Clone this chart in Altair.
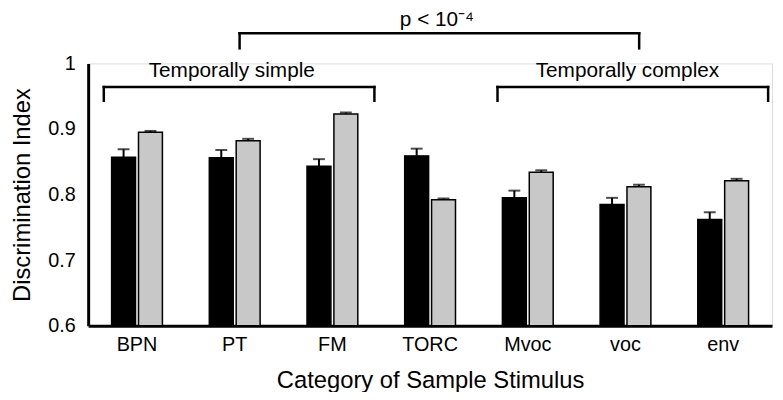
import altair as alt
import pandas as pd

# ---- data ----
categories = ["BPN", "PT", "FM", "TORC", "Mvoc", "voc", "env"]
series_names = ["dark", "light"]
dark_values = [0.857, 0.856, 0.843, 0.859, 0.795, 0.785, 0.762]
dark_errors = [0.012, 0.012, 0.011, 0.011, 0.011, 0.010, 0.011]
light_values = [0.895, 0.882, 0.923, 0.792, 0.834, 0.812, 0.821]
light_errors = [0.002, 0.003, 0.002, 0.002, 0.003, 0.003, 0.003]

# brackets (x in category units: category i is centred on i + 0.5)
bracket_labels = ["Temporally simple", "Temporally complex", "p < 10⁻⁴"]
bracket_start = [0.16, 4.19, 1.55]
bracket_end = [2.93, 6.96, 5.64]
bracket_level = [0.964, 0.964, 1.046]
bracket_tip = [0.943, 0.943, 1.023]
label_x = [1.47, 5.52, 3.57]
label_y = [0.980, 0.980, 1.057]

FONT = "Liberation Sans"

rows = []
for i, c in enumerate(categories):
    rows.append({"cat": c, "series": series_names[0], "value": dark_values[i],
                 "top": dark_values[i] + dark_errors[i]})
    rows.append({"cat": c, "series": series_names[1], "value": light_values[i],
                 "top": light_values[i] + light_errors[i]})
bars_df = pd.DataFrame(rows)

br_df = pd.DataFrame({"label": bracket_labels, "x1": bracket_start, "x2": bracket_end,
                      "lvl": bracket_level, "tip": bracket_tip,
                      "lx": label_x, "ly": label_y})
tips = []
for i in range(len(bracket_labels)):
    tips.append({"x": bracket_start[i], "y1": bracket_tip[i], "y2": bracket_level[i]})
    tips.append({"x": bracket_end[i], "y1": bracket_tip[i], "y2": bracket_level[i]})
tips_df = pd.DataFrame(tips)

xscale = alt.Scale(domain=categories, paddingInner=0.48, paddingOuter=0.24)
yscale = alt.Scale(domain=[0.6, 1.0], nice=False, zero=False)
offscale = alt.Scale(domain=series_names, paddingInner=0.11, paddingOuter=0)

x_enc = alt.X("cat:N", scale=xscale, sort=categories,
              axis=alt.Axis(title="Category of Sample Stimulus", labelAngle=0, ticks=False,
                            labelPadding=9, titlePadding=14, domainWidth=3, domainColor="black",
                            labelFont=FONT, labelFontSize=20, labelColor="black",
                            titleFont=FONT, titleFontSize=24, titleFontWeight="normal",
                            titleColor="black"))
y_axis = alt.Axis(title="Discrimination Index", values=[0.6, 0.7, 0.8, 0.9, 1.0], format="~g",
                  ticks=False, grid=False, labelPadding=13, titlePadding=13, domainWidth=3,
                  domainColor="black", labelFont=FONT, labelFontSize=20, labelColor="black",
                  titleFont=FONT, titleFontSize=24, titleFontWeight="normal", titleColor="black")

base = alt.Chart(bars_df)

bars = base.mark_bar(strokeWidth=1.5).encode(
    x=x_enc,
    xOffset=alt.XOffset("series:N", scale=offscale),
    y=alt.Y("value:Q", scale=yscale, axis=y_axis),
    y2=alt.Y2(datum=0.6),
    fill=alt.Fill("series:N", scale=alt.Scale(domain=series_names, range=["#000000", "#c8c8c8"]),
                  legend=None),
    stroke=alt.Stroke("series:N", scale=alt.Scale(domain=series_names, range=["#000000", "#000000"]),
                      legend=None),
)

err = base.mark_rule(color="black", strokeWidth=2).encode(
    x=alt.X("cat:N", scale=xscale, sort=categories),
    xOffset=alt.XOffset("series:N", scale=offscale),
    y=alt.Y("value:Q", scale=yscale),
    y2="top:Q",
)
caps = base.mark_tick(color="black", thickness=2, size=12, orient="horizontal").encode(
    x=alt.X("cat:N", scale=xscale, sort=categories),
    xOffset=alt.XOffset("series:N", scale=offscale),
    y=alt.Y("top:Q", scale=yscale),
)

xq = alt.Scale(domain=[0, len(categories)], nice=False, zero=False)
hlines = alt.Chart(br_df).mark_rule(color="black", strokeWidth=2.5, strokeCap="square").encode(
    x=alt.X("x1:Q", scale=xq, axis=None),
    x2="x2:Q",
    y=alt.Y("lvl:Q", scale=yscale),
)
vlines = alt.Chart(tips_df).mark_rule(color="black", strokeWidth=2.5, strokeCap="square").encode(
    x=alt.X("x:Q", scale=xq, axis=None),
    y=alt.Y("y1:Q", scale=yscale),
    y2="y2:Q",
)
labels = alt.Chart(br_df).mark_text(font=FONT, fontSize=21, color="black", align="center",
                                    baseline="alphabetic").encode(
    x=alt.X("lx:Q", scale=xq, axis=None),
    y=alt.Y("ly:Q", scale=yscale),
    text="label:N",
)

chart = alt.layer(
    alt.layer(bars, err, caps),
    alt.layer(hlines, vlines, labels),
).resolve_scale(x="independent").properties(
    width=691, height=265,
    autosize=alt.AutoSizeParams(type="none"),
    padding={"left": 81, "top": 54, "right": 3, "bottom": 65},
).configure_view(stroke=None).configure(background="white")

chart.save("out.html", embed_options={"renderer": "svg", "actions": False})
